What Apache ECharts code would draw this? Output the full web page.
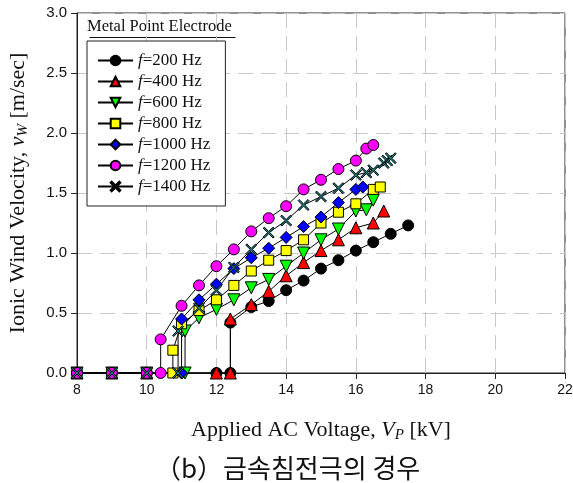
<!DOCTYPE html>
<html>
<head>
<meta charset="utf-8">
<title>Ionic wind velocity</title>
<script src="https://cdn.jsdelivr.net/npm/echarts@6/dist/echarts.min.js"></script>
<style>
  html, body { margin: 0; padding: 0; background: #fff; }
  #main { width: 573px; height: 483px; }
</style>
</head>
<body>
<div id="main"></div>
<script>
// frequency labels for the legend
var freqs = ['200', '400', '600', '800', '1000', '1200', '1400'];

// applied voltage [kV] / ionic wind velocity [m/s], one pair of arrays per frequency
var v200 = [8, 9, 10, 12, 12.4, 12.4, 13.0, 13.5, 14.0, 14.5, 15.0, 15.5, 16.0, 16.5, 17.0, 17.5];
var w200 = [0, 0, 0, 0, 0, 0.42, 0.55, 0.60, 0.69, 0.77, 0.87, 0.94, 1.02, 1.09, 1.16, 1.23];

var v400 = [8, 9, 10, 12, 12.4, 12.4, 13.0, 13.5, 14.0, 14.5, 15.0, 15.5, 16.0, 16.5, 16.8];
var w400 = [0, 0, 0, 0, 0, 0.45, 0.57, 0.68, 0.81, 0.92, 1.02, 1.11, 1.21, 1.25, 1.35];

var v600 = [8, 9, 10, 11.1, 11.1, 11.5, 12.0, 12.5, 13.0, 13.5, 14.0, 14.5, 15.0, 15.5, 16.0, 16.3, 16.5];
var w600 = [0, 0, 0, 0, 0.35, 0.46, 0.53, 0.61, 0.71, 0.78, 0.89, 1.00, 1.11, 1.20, 1.35, 1.36, 1.44];

var v800 = [8, 9, 10, 10.75, 10.75, 11.0, 11.5, 12.0, 12.5, 13.0, 13.5, 14.0, 14.5, 15.0, 15.5, 16.0, 16.5, 16.7];
var w800 = [0, 0, 0, 0, 0.19, 0.41, 0.52, 0.61, 0.73, 0.85, 0.94, 1.02, 1.11, 1.25, 1.34, 1.41, 1.53, 1.55];

var v1000 = [8, 9, 10, 11.0, 11.0, 11.5, 12.0, 12.5, 13.0, 13.5, 14.0, 14.5, 15.0, 15.5, 16.0, 16.2];
var w1000 = [0, 0, 0, 0, 0.45, 0.61, 0.74, 0.87, 0.96, 1.04, 1.13, 1.22, 1.30, 1.42, 1.53, 1.55];

var v1200 = [8, 9, 10, 10.4, 10.4, 11.0, 11.5, 12.0, 12.5, 13.0, 13.5, 14.0, 14.5, 15.0, 15.5, 16.0, 16.3, 16.5];
var w1200 = [0, 0, 0, 0, 0.28, 0.56, 0.73, 0.89, 1.03, 1.18, 1.29, 1.39, 1.53, 1.61, 1.70, 1.77, 1.87, 1.90];

var v1400 = [8, 9, 10, 10.9, 10.9, 11.5, 12.0, 12.5, 13.0, 13.5, 14.0, 14.5, 15.0, 15.5, 16.0, 16.3, 16.5, 16.8, 16.9, 17.0];
var w1400 = [0, 0, 0, 0, 0.35, 0.54, 0.69, 0.88, 1.03, 1.17, 1.27, 1.40, 1.47, 1.54, 1.65, 1.67, 1.69, 1.75, 1.77, 1.79];

var volts = [v200, v400, v600, v800, v1000, v1200, v1400];
var vels = [w200, w400, w600, w800, w1000, w1200, w1400];

// marker look per series
var fills = ['#000000', '#ff0000', '#00ff00', '#ffff00', '#0000ff', '#ff00ff', '#1a8a8a'];
var symbols = ['circle', 'triangle', 'triangle', 'rect', 'diamond', 'circle',
  'path://M1,0 L5,4 L9,0 L10,1 L6,5 L10,9 L9,10 L5,6 L1,10 L0,9 L4,5 L0,1 Z'];
var rotates = [0, 0, 180, 0, 0, 0, 0];
var sizes = [11, 12, 12, 10, 12, 11, 11];

var serif = '"Liberation Serif", "Times New Roman", serif';
var sans = '"Liberation Sans", Arial, sans-serif';

function zip(a, b) {
  var out = [];
  for (var i = 0; i < a.length; i++) out.push([a[i], b[i]]);
  return out;
}

var series = [];
for (var k = 0; k < freqs.length; k++) {
  series.push({
    name: freqs[k],
    type: 'line',
    data: zip(volts[k], vels[k]),
    symbol: symbols[k],
    symbolSize: sizes[k],
    symbolRotate: rotates[k],
    showAllSymbol: true,
    lineStyle: { color: '#000', width: 1 },
    itemStyle: { color: fills[k], borderColor: '#000', borderWidth: 1 },
    emphasis: { disabled: true },
    animation: false
  });
}

var myChart = echarts.init(document.getElementById('main'));

var nameRich = {
  i: { fontFamily: serif, fontSize: 22, fontStyle: 'italic', color: '#111' },
  s: { fontFamily: serif, fontSize: 15, fontStyle: 'italic', color: '#111', padding: [10, 0, 0, 0] }
};

var option = {
  backgroundColor: '#fff',
  animation: false,
  grid: {
    left: 77, right: 8, top: 13, bottom: 110,
    outerBoundsMode: 'none',
    containLabel: false,
    show: true, borderColor: '#222', borderWidth: 1
  },
  title: {
    text: '（b）금속침전극의 경우',
    left: 150, top: 450,
    textStyle: { fontFamily: '"Noto Sans CJK KR", sans-serif', fontSize: 26, fontWeight: 'normal', color: '#111' }
  },
  legend: {
    orient: 'vertical',
    left: 87, top: 41,
    padding: [11, 15, 11, 10],
    itemGap: 4,
    itemWidth: 35,
    itemHeight: 12,
    borderColor: '#222',
    borderWidth: 1,
    backgroundColor: '#fff',
    data: freqs,
    formatter: function (n) { return '{i|f}=' + n + ' Hz'; },
    textStyle: {
      fontFamily: serif, fontSize: 17, color: '#111',
      rich: { i: { fontFamily: serif, fontSize: 17, fontStyle: 'italic', color: '#111' } }
    }
  },
  xAxis: {
    type: 'value',
    min: 8, max: 22, interval: 2,
    name: 'Applied AC Voltage, {i|V}{s|P} [kV]',
    nameLocation: 'middle',
    nameGap: 45,
    nameTextStyle: { fontFamily: serif, fontSize: 22, color: '#111', rich: nameRich },
    axisLine: { lineStyle: { color: '#222', width: 1 } },
    axisTick: { show: true, inside: false, length: 6, lineStyle: { color: '#222' } },
    axisLabel: { margin: 10, fontFamily: sans, fontSize: 14, color: '#111' },
    splitLine: { show: true, lineStyle: { color: '#c8c8c8', type: [15, 8], width: 1 } }
  },
  yAxis: {
    type: 'value',
    min: 0, max: 3, interval: 0.5,
    name: 'Ionic Wind Velocity, {i|v}{s|W} [m/sec]',
    nameLocation: 'middle',
    nameGap: 46,
    nameTextStyle: { fontFamily: serif, fontSize: 22, color: '#111', rich: nameRich },
    axisLine: { show: true, lineStyle: { color: '#222', width: 1 } },
    axisTick: { show: true, inside: false, length: 6, lineStyle: { color: '#222' } },
    axisLabel: {
      margin: 10, fontFamily: sans, fontSize: 15, color: '#111',
      formatter: function (v) { return v.toFixed(1); }
    },
    splitLine: { show: true, lineStyle: { color: '#c8c8c8', type: [15, 8], width: 1 } }
  },
  graphic: [
    {
      type: 'text', left: 87, top: 18,
      style: { text: 'Metal Point Electrode', font: '16.5px ' + serif, fill: '#111' }
    },
    {
      // underline of the legend heading
      type: 'line', left: 87, top: 35,
      shape: { x1: 0, y1: 0, x2: 146, y2: 0 },
      style: { stroke: '#111', lineWidth: 1 }
    }
  ],
  series: series
};

myChart.setOption(option);
</script>
</body>
</html>
